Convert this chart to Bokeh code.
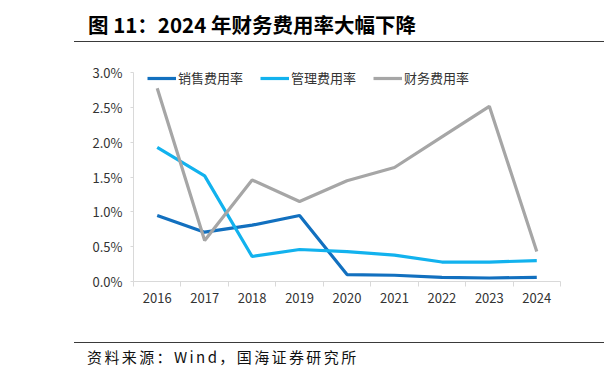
from bokeh.plotting import figure
from bokeh.models import Div, FixedTicker, PrintfTickFormatter, Legend, LegendItem, Range1d, ColumnDataSource
from bokeh.layouts import column
from bokeh.embed import file_html
from bokeh.resources import INLINE

# ---- data (percent) ----
years = ["2016", "2017", "2018", "2019", "2020", "2021", "2022", "2023", "2024"]
sales_rate = [0.95, 0.71, 0.81, 0.95, 0.10, 0.09, 0.06, 0.05, 0.06]
admin_rate = [1.93, 1.52, 0.36, 0.46, 0.43, 0.38, 0.28, 0.28, 0.30]
finance_rate = [2.78, 0.59, 1.46, 1.15, 1.45, 1.64, 2.08, 2.52, 0.43]
series_names = ["销售费用率", "管理费用率", "财务费用率"]
y_ticks = [0.0, 0.5, 1.0, 1.5, 2.0, 2.5, 3.0]

title_text = "图 11：2024 年财务费用率大幅下降"
source_text = "资料来源：Wind，国海证券研究所"

colors = ["#1270BF", "#12B2EE", "#A6A6A6"]
CJK = "Noto Sans CJK SC"

n = len(years)
xs = [i + 0.5 for i in range(n)]
src = ColumnDataSource(dict(x=xs, s=sales_rate, a=admin_rate, f=finance_rate))

p = figure(width=596, height=300, output_backend="svg", toolbar_location=None,
           x_range=Range1d(0, n), y_range=Range1d(0, 3.15))
p.min_border_left = 125
p.min_border_right = 44
p.min_border_top = 20
p.min_border_bottom = 61
p.outline_line_color = None
p.xgrid.grid_line_color = None
p.ygrid.grid_line_color = None
p.background_fill_color = "white"
p.border_fill_color = "white"

renderers = []
for col, c in zip(["s", "a", "f"], colors):
    r = p.line("x", col, source=src, line_color=c, line_width=3.2)
    renderers.append(r)

# x axis: labels at centres, ticks at boundaries
xa = p.xaxis[0]
xa.ticker = FixedTicker(ticks=xs, minor_ticks=list(range(n + 1)))
xa.major_label_overrides = {x: y for x, y in zip(xs, years)}
xa.major_tick_line_color = None
xa.major_tick_out = 0
xa.major_tick_in = 0
xa.minor_tick_line_color = "#D9D9D9"
xa.minor_tick_out = 5
xa.minor_tick_in = 0
xa.axis_line_color = "#D9D9D9"
xa.axis_line_width = 1.2
xa.major_label_standoff = 6
xa.major_label_text_font = CJK
xa.major_label_text_font_size = "13px"
xa.major_label_text_color = "#333333"

ya = p.yaxis[0]
ya.ticker = FixedTicker(ticks=y_ticks)
ya.bounds = (0, 3.0)
ya.formatter = PrintfTickFormatter(format="%.1f%%")
ya.axis_line_color = "#D9D9D9"
ya.major_tick_line_color = "#D9D9D9"
ya.major_tick_out = 3
ya.major_tick_in = 0
ya.minor_tick_line_color = None
ya.major_label_standoff = 8
ya.major_label_text_font = CJK
ya.major_label_text_font_size = "13px"
ya.major_label_text_color = "#333333"

legend = Legend(items=[LegendItem(label=nm, renderers=[r]) for nm, r in zip(series_names, renderers)],
                orientation="horizontal", location=(14, 194))
legend.background_fill_alpha = 0
legend.border_line_color = None
legend.padding = 0
legend.margin = 0
legend.spacing = 17
legend.glyph_width = 29
legend.glyph_height = 16
legend.label_height = 16
legend.label_standoff = 2
legend.label_text_font = CJK
legend.label_text_font_size = "13px"
legend.label_text_color = "#333333"
p.add_layout(legend, "center")

title_div = Div(width=596, height=34, margin=0, text=(
    '<div style="margin-left:66px;width:530px;height:34px;box-sizing:border-box;'
    'border-bottom:1.5px solid #3a3a3a;padding-left:14px;line-height:33px;white-space:nowrap;'
    'font-family:\'Noto Sans CJK SC\';font-weight:bold;font-size:20.5px;color:#000;">'
    + title_text + '</div>'))

source_div = Div(width=596, height=29, margin=0, text=(
    '<div style="margin-left:66px;width:530px;height:29px;box-sizing:border-box;'
    'border-top:1.5px solid #3a3a3a;padding-left:13px;line-height:28px;white-space:nowrap;'
    'font-family:\'Noto Sans CJK SC\';font-size:15px;letter-spacing:2.4px;color:#111;">'
    + source_text + '</div>'))

layout = column(title_div, p, source_div, spacing=0, margin=(8, 8, 8, 8))

open("out.html", "w").write(file_html(layout, INLINE))
